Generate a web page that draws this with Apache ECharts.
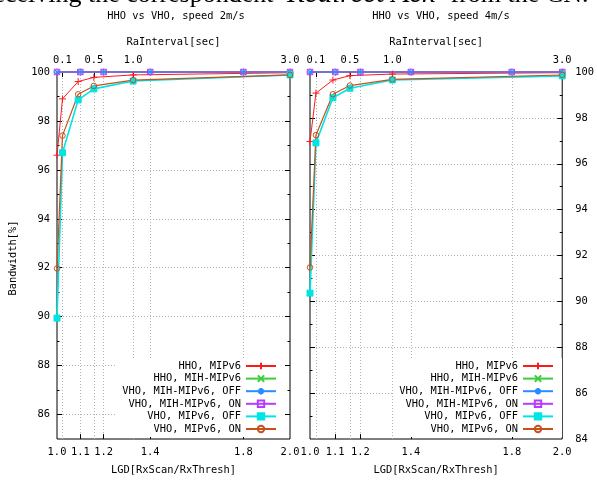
<!DOCTYPE html>
<html>
<head>
<meta charset="utf-8">
<script src="https://cdn.jsdelivr.net/npm/echarts@6/dist/echarts.min.js"></script>
<style>
  html, body { margin: 0; padding: 0; background: #ffffff; }
  #chart { width: 597px; height: 480px; }
</style>
</head>
<body>
<div id="chart"></div>
<script>
// Series names shown in both keys
const seriesNames = [
  'HHO, MIPv6',
  'HHO, MIH-MIPv6',
  'VHO, MIH-MIPv6, OFF',
  'VHO, MIH-MIPv6, ON',
  'VHO, MIPv6, OFF',
  'VHO, MIPv6, ON'
];

// x values: LGD (bottom axis) and RaInterval in seconds (top axis)
const lgdValues = [1.0, 1.1, 1.2, 1.4, 1.8, 2.0];
const raIntervalValues = [0.03, 0.1, 0.3, 0.5, 1.0, 3.0];

// tick labels
const lgdTickLabels = [1.0, 1.1, 1.2, 1.4, 1.8, 2.0];
const raTickLabels = [0.1, 0.5, 1.0, 3.0];
const leftYTickLabels = [86, 88, 90, 92, 94, 96, 98, 100];
const rightYTickLabels = [84, 86, 88, 90, 92, 94, 96, 98, 100];

// bandwidth [%], speed 2m/s
const hhoMipv6_2 = [96.6, 98.9, 99.61, 99.78, 99.88, 99.97];
const hhoMih_2 = [100, 100, 100, 100, 100, 100];
const vhoMihOff_2 = [100, 100, 100, 100, 100, 100];
const vhoMihOn_2 = [100, 100, 100, 100, 100, 100];
const vhoMipv6Off_2 = [89.94, 96.70, 98.86, 99.31, 99.63, 99.88];
const vhoMipv6On_2 = [91.97, 97.40, 99.09, 99.43, 99.67, 99.88];

// bandwidth [%], speed 4m/s
const hhoMipv6_4 = [96.97, 99.08, 99.65, 99.84, 99.91, 99.97];
const hhoMih_4 = [100, 100, 100, 100, 100, 100];
const vhoMihOff_4 = [100, 100, 100, 100, 100, 100];
const vhoMihOn_4 = [100, 100, 100, 100, 100, 100];
const vhoMipv6Off_4 = [90.36, 96.91, 98.88, 99.29, 99.65, 99.83];
const vhoMipv6On_4 = [91.48, 97.25, 99.03, 99.41, 99.68, 99.87];

const FONT = '"DejaVu Sans Mono", "Liberation Mono", monospace';
const FS = 10.4;
const GRIDLINE = { show: true, lineStyle: { color: '#b4b4b4', width: 1, type: [1, 2] } };

const colors = ['#ff1a1a', '#3ccc3c', '#2a8cff', '#b43cff', '#00e4e4', '#c8501c'];

// marker styles in the order of seriesNames
const markers = [
  { symbol: 'path://M0,5H10M5,0V10', size: 7, fill: 'transparent' },
  { symbol: 'path://M0,0L10,10M10,0L0,10', size: 6, fill: 'transparent' },
  { symbol: 'path://M0,5H10M5,0V10M1.5,1.5L8.5,8.5M8.5,1.5L1.5,8.5', size: 7, fill: 'transparent' },
  { symbol: 'path://M0,0H10V10H0Z', size: 5.5, fill: 'transparent' },
  { symbol: 'rect', size: 6, fill: colors[4] },
  { symbol: 'circle', size: 5.5, fill: 'transparent' }
];
const lineWidths = [1, 1.5, 1, 1, 1.6, 1.2];

function pairs(xs, ys) {
  return xs.map((x, i) => [x, ys[i]]);
}

function makeSeries(k, xs, ys, xAxisIndex, yAxisIndex) {
  const m = markers[k];
  return {
    type: 'line',
    name: seriesNames[k],
    xAxisIndex: xAxisIndex,
    yAxisIndex: yAxisIndex,
    data: pairs(xs, ys),
    symbol: m.symbol,
    symbolSize: m.size,
    showSymbol: true,
    smooth: false,
    clip: false,
    lineStyle: { color: colors[k], width: lineWidths[k] },
    itemStyle: { color: m.fill, borderColor: colors[k], borderWidth: 1 },
    emphasis: { disabled: true },
    z: 3
  };
}

function panelSeries(gridBottomX, gridTopX, yIdx, sets) {
  // red / brown / cyan follow RaInterval, the MIH based ones follow LGD
  const xFor = [gridTopX, gridBottomX, gridBottomX, gridBottomX, gridTopX, gridTopX];
  const xsFor = [raIntervalValues, lgdValues, lgdValues, lgdValues, raIntervalValues, raIntervalValues];
  return sets.map((ys, k) => makeSeries(k, xsFor[k], ys, xFor[k], yIdx));
}

function bottomAxis(gridIndex) {
  return {
    type: 'value', gridIndex: gridIndex, position: 'bottom',
    min: 1.0, max: 2.0,
    name: 'LGD[RxScan/RxThresh]', nameLocation: 'middle', nameGap: 26,
    nameTextStyle: { fontFamily: FONT, fontSize: FS, color: '#000' },
    axisLine: { show: false },
    axisTick: { show: true, inside: true, length: 5, customValues: [1.1, 1.2, 1.4, 1.8],
                lineStyle: { color: '#000', width: 1 } },
    axisLabel: { show: true, customValues: lgdTickLabels, margin: 8,
                 formatter: v => Number(v).toFixed(1),
                 fontFamily: FONT, fontSize: FS, color: '#000' },
    splitLine: GRIDLINE
  };
}

function topAxis(gridIndex) {
  return {
    type: 'value', gridIndex: gridIndex, position: 'top',
    min: 0.03, max: 3.0,
    name: 'RaInterval[sec]', nameLocation: 'middle', nameGap: 25,
    nameTextStyle: { fontFamily: FONT, fontSize: FS, color: '#000' },
    axisLine: { show: false },
    axisTick: { show: true, inside: true, length: 5, customValues: [0.1, 0.5, 1.0],
                lineStyle: { color: '#000', width: 1 } },
    axisLabel: { show: true, customValues: raTickLabels, margin: 7,
                 formatter: v => Number(v).toFixed(1),
                 fontFamily: FONT, fontSize: FS, color: '#000' },
    splitLine: GRIDLINE
  };
}

function yMajor(gridIndex, pos, min, labels, showLabels, margin) {
  const inner = labels.filter(v => v > min && v < 100);
  return {
    type: 'value', gridIndex: gridIndex, position: pos,
    min: min, max: 100,
    axisLine: { show: false },
    axisTick: { show: true, inside: true, length: 5, customValues: inner,
                lineStyle: { color: '#000', width: 1 } },
    axisLabel: { show: showLabels, customValues: labels, margin: margin,
                 fontFamily: FONT, fontSize: FS, color: '#000' },
    splitLine: showLabels ? GRIDLINE : { show: false }
  };
}

function yMinor(gridIndex, pos, min) {
  const minorTicks = [];
  for (let v = min + 1; v < 100; v++) minorTicks.push(v);
  return {
    type: 'value', gridIndex: gridIndex, position: pos,
    min: min, max: 100,
    axisLine: { show: false },
    axisTick: { show: true, inside: true, length: 2.5, customValues: minorTicks,
                lineStyle: { color: '#000', width: 1 } },
    axisLabel: { show: false },
    splitLine: { show: false }
  };
}

function key(rightPx) {
  return {
    data: seriesNames,
    orient: 'vertical', align: 'right',
    right: rightPx, top: 358,
    itemWidth: 30, itemHeight: 8, itemGap: 2.6,
    padding: [3, 8, 3, 6],
    backgroundColor: '#ffffff',
    selectedMode: false,
    textStyle: { fontFamily: FONT, fontSize: FS, color: '#000' }
  };
}

const textStyle = (s) => ({
  text: s, font: FS + 'px ' + FONT, fill: '#000', align: 'center', verticalAlign: 'middle'
});
const serif = '"Liberation Serif", "Times New Roman", serif';

const option = {
  animation: false,
  backgroundColor: '#ffffff',
  grid: [
    { left: 57, top: 72, width: 233, height: 369, show: true, borderColor: '#000', borderWidth: 1,
      backgroundColor: 'transparent', containLabel: false },
    { left: 310, top: 72, width: 257, height: 369, show: true, borderColor: '#000', borderWidth: 1,
      backgroundColor: 'transparent', containLabel: false }
  ],
  xAxis: [bottomAxis(0), topAxis(0), bottomAxis(1), topAxis(1)],
  yAxis: [
    yMajor(0, 'left', 85, leftYTickLabels, true, 7),
    yMinor(0, 'left', 85),
    yMajor(0, 'right', 85, leftYTickLabels, false, 7),
    yMinor(0, 'right', 85),
    yMajor(1, 'right', 84, rightYTickLabels, true, 13),
    yMinor(1, 'right', 84),
    yMajor(1, 'left', 84, rightYTickLabels, false, 7),
    yMinor(1, 'left', 84)
  ],
  legend: [key(312), key(35)],
  graphic: [
    // end of the paragraph line above the figure
    { type: 'text', x: 280, y: -4.8, silent: true,
      style: { text: 'receiving the correspondent ', font: '26px ' + serif, fill: '#000',
               align: 'right', verticalAlign: 'middle' } },
    { type: 'text', x: 361, y: -5.7, silent: true,
      style: { text: 'Redirect Ack', font: 'italic 29px ' + serif, fill: '#000',
               align: 'center', verticalAlign: 'middle' } },
    { type: 'text', x: 444, y: -4.8, silent: true,
      style: { text: ' from the CN.', font: '26px ' + serif, fill: '#000',
               align: 'left', verticalAlign: 'middle' } },
    { type: 'text', x: 176, y: 16, silent: true, style: textStyle('HHO vs VHO, speed 2m/s') },
    { type: 'text', x: 441, y: 16, silent: true, style: textStyle('HHO vs VHO, speed 4m/s') },
    { type: 'text', x: 13, y: 258, rotation: Math.PI / 2, silent: true,
      style: textStyle('Bandwidth[%]') }
  ],
  series: [
    ...panelSeries(0, 1, 0, [hhoMipv6_2, hhoMih_2, vhoMihOff_2, vhoMihOn_2, vhoMipv6Off_2, vhoMipv6On_2]),
    ...panelSeries(2, 3, 4, [hhoMipv6_4, hhoMih_4, vhoMihOff_4, vhoMihOn_4, vhoMipv6Off_4, vhoMipv6On_4])
  ]
};

const chart = echarts.init(document.getElementById('chart'), null, { renderer: 'canvas' });
chart.setOption(option);
</script>
</body>
</html>
